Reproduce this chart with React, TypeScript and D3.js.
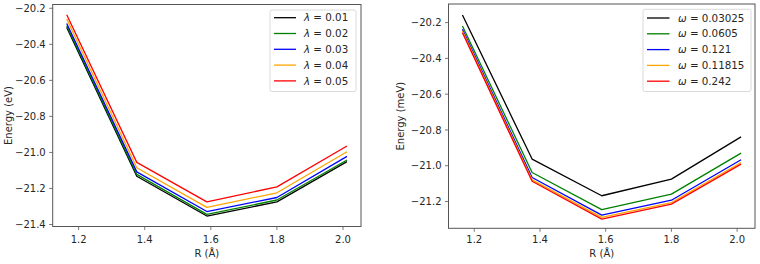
import React from "react";
import * as d3 from "d3";

const R = [1.164, 1.376, 1.588, 1.8, 2.012];

const lambdaLabels = ["0.01", "0.02", "0.03", "0.04", "0.05"];
const lam001 = [-20.306, -21.132, -21.353, -21.274, -21.051];
const lam002 = [-20.297, -21.122, -21.344, -21.264, -21.042];
const lam003 = [-20.284, -21.108, -21.328, -21.250, -21.022];
const lam004 = [-20.260, -21.085, -21.305, -21.224, -20.996];
const lam005 = [-20.236, -21.055, -21.274, -21.191, -20.964];

const omegaLabels = ["0.03025", "0.0605", "0.121", "0.11815", "0.242"];
const om1 = [-20.157, -20.963, -21.168, -21.075, -20.839];
const om2 = [-20.219, -21.038, -21.246, -21.159, -20.930];
const om3 = [-20.237, -21.066, -21.276, -21.193, -20.967];
const om4 = [-20.247, -21.079, -21.289, -21.206, -20.982];
const om5 = [-20.256, -21.087, -21.299, -21.215, -20.991];

const xTicks = [1.2, 1.4, 1.6, 1.8, 2.0];
const yTicksLeft = [-20.2, -20.4, -20.6, -20.8, -21.0, -21.2, -21.4];
const yTicksRight = [-20.2, -20.4, -20.6, -20.8, -21.0, -21.2];

const colors = ["#000000", "#008000", "#0000ff", "#ffa500", "#ff0000"];

const FONT = "DejaVu Sans, sans-serif";
const TXT = "#262626";
const AX = "#555";
const FS = 10;

type PanelProps = {
  left: number;
  right: number;
  top: number;
  bottom: number;
  yDomain: [number, number];
  yTicks: number[];
  series: number[][];
  labels: string[];
  symbol: string;
  yLabel: string;
  yLabelX: number;
  legend: { x0: number; x1: number; y0: number; y1: number; lineX0: number; lineX1: number; textX: number; firstY: number; step: number };
};

function Panel(p: PanelProps) {
  const xs = d3.scaleLinear().domain([1.1216, 2.0544]).range([p.left, p.right]);
  const ys = d3.scaleLinear().domain(p.yDomain).range([p.bottom, p.top]);
  const line = d3
    .line<number>()
    .x((_, i) => xs(R[i]))
    .y((d) => ys(d));
  const fmt = d3.format(".1f");
  return (
    <g>
      <g>
        {p.series.map((s, i) => (
          <path key={i} d={line(s) || ""} fill="none" stroke={colors[i]} strokeWidth={1.3} strokeLinejoin="round" />
        ))}
      </g>
      <rect x={p.left} y={p.top} width={p.right - p.left} height={p.bottom - p.top} fill="none" stroke={AX} strokeWidth={1} />
      {xTicks.map((t) => (
        <g key={t}>
          <line x1={xs(t)} x2={xs(t)} y1={p.bottom} y2={p.bottom + 3.5} stroke={AX} strokeWidth={0.8} />
          <text x={xs(t)} y={243} textAnchor="middle" fontFamily={FONT} fontSize={FS} fill={TXT}>
            {fmt(t)}
          </text>
        </g>
      ))}
      {p.yTicks.map((t) => (
        <g key={t}>
          <line x1={p.left - 3.5} x2={p.left} y1={ys(t)} y2={ys(t)} stroke={AX} strokeWidth={0.8} />
          <text x={p.left - 7} y={ys(t) + 3.6} textAnchor="end" fontFamily={FONT} fontSize={FS} fill={TXT}>
            {fmt(t)}
          </text>
        </g>
      ))}
      <text x={(p.left + p.right) / 2} y={257} textAnchor="middle" fontFamily={FONT} fontSize={FS} fill={TXT}>
        R (Å)
      </text>
      <text
        transform={`translate(${p.yLabelX},${(p.top + p.bottom) / 2}) rotate(-90)`}
        textAnchor="middle"
        fontFamily={FONT}
        fontSize={FS}
        fill={TXT}
      >
        {p.yLabel}
      </text>
      <rect
        x={p.legend.x0}
        y={p.legend.y0}
        width={p.legend.x1 - p.legend.x0}
        height={p.legend.y1 - p.legend.y0}
        rx={2}
        fill="#fff"
        fillOpacity={0.8}
        stroke="#d0d0d0"
        strokeWidth={0.8}
      />
      {p.labels.map((l, i) => {
        const y = p.legend.firstY + i * p.legend.step;
        return (
          <g key={l}>
            <line x1={p.legend.lineX0} x2={p.legend.lineX1} y1={y} y2={y} stroke={colors[i]} strokeWidth={1.3} />
            <text x={p.legend.textX} y={y + 3.6} fontFamily={FONT} fontSize={10.3} fill={TXT} style={{ whiteSpace: "pre" }}>
              <tspan fontStyle="italic">{p.symbol}</tspan>
              <tspan>{" = " + l}</tspan>
            </text>
          </g>
        );
      })}
    </g>
  );
}

export default function App() {
  return (
    <svg width={760} height={264} style={{ position: "absolute", left: 0, top: 0, background: "#fff" }}>
      <rect x={0} y={0} width={760} height={264} fill="#fff" />
      <Panel
        left={52.7}
        right={361}
        top={4.5}
        bottom={226.5}
        yDomain={[-21.411, -20.179]}
        yTicks={yTicksLeft}
        series={[lam001, lam002, lam003, lam004, lam005]}
        labels={lambdaLabels}
        symbol="λ"
        yLabel="Energy (eV)"
        yLabelX={12}
        legend={{ x0: 270, x1: 356, y0: 10, y1: 91.5, lineX0: 274, lineX1: 296, textX: 304, firstY: 17.7, step: 15.8 }}
      />
      <Panel
        left={448.5}
        right={755}
        top={4}
        bottom={228.3}
        yDomain={[-21.35, -20.096]}
        yTicks={yTicksRight}
        series={[om1, om2, om3, om4, om5]}
        labels={omegaLabels}
        symbol="ω"
        yLabel="Energy (meV)"
        yLabelX={404}
        legend={{ x0: 643, x1: 751, y0: 9.3, y1: 91.5, lineX0: 647, lineX1: 669.5, textX: 678, firstY: 18, step: 15.8 }}
      />
    </svg>
  );
}
